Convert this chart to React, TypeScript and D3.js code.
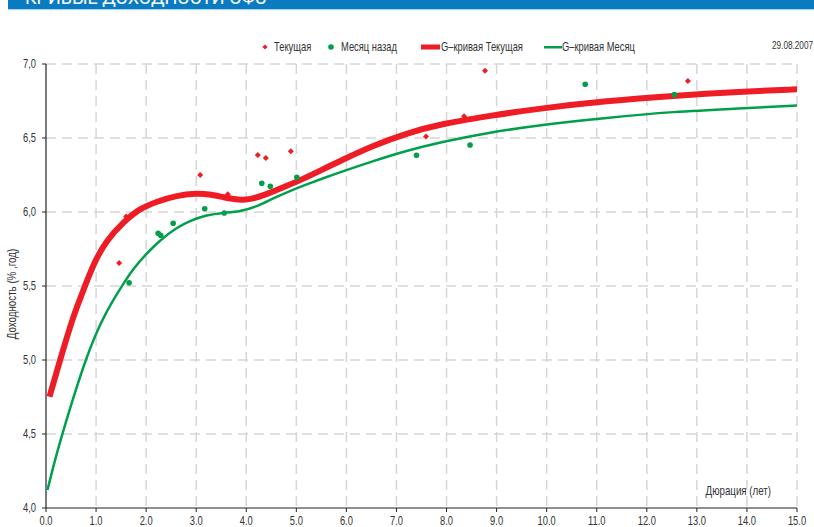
import * as d3 from 'd3';

// Текущая (red diamonds)
const curX = [1.46, 1.6, 3.08, 3.63, 4.23, 4.39, 4.89, 6.35, 7.59, 8.35, 8.77, 12.82];
const curY = [5.655, 5.97, 6.25, 6.12, 6.385, 6.365, 6.41, 6.42, 6.51, 6.647, 6.955, 6.885];

// Месяц назад (green dots)
const prevX = [1.66, 2.24, 2.29, 2.54, 3.17, 3.56, 4.31, 4.48, 5.01, 7.4, 8.47, 10.77, 12.55];
const prevY = [5.522, 5.856, 5.843, 5.924, 6.022, 5.993, 6.194, 6.174, 6.234, 6.383, 6.453, 6.863, 6.793];

// G-кривая Текущая
const gCurX = [0.07, 0.28, 0.55, 0.75, 0.95, 1.21, 1.55, 1.88, 2.21, 2.61, 3.01, 3.25, 3.54, 3.87, 4.07, 4.34, 4.74, 5.14, 5.54, 5.87, 6.54, 7.2, 7.87, 8.87, 9.87, 11.2, 12.53, 13.86, 15.0];
const gCurY = [4.752, 5.0, 5.304, 5.473, 5.653, 5.81, 5.934, 6.025, 6.07, 6.112, 6.126, 6.12, 6.1, 6.08, 6.086, 6.11, 6.167, 6.224, 6.29, 6.345, 6.45, 6.532, 6.593, 6.651, 6.7, 6.75, 6.786, 6.813, 6.829];

// G-кривая Месяц
const gPrevX = [0.03, 0.21, 0.55, 0.81, 1.1, 1.34, 1.55, 1.75, 2.01, 2.28, 2.61, 2.88, 3.21, 3.54, 3.87, 4.21, 4.54, 4.87, 5.21, 5.54, 5.87, 6.54, 7.2, 7.87, 8.87, 9.87, 11.2, 12.53, 13.86, 15.0];
const gPrevY = [4.122, 4.37, 4.752, 5.022, 5.26, 5.405, 5.518, 5.62, 5.72, 5.81, 5.895, 5.941, 5.98, 5.995, 6.002, 6.036, 6.093, 6.142, 6.187, 6.228, 6.268, 6.345, 6.414, 6.471, 6.538, 6.588, 6.637, 6.678, 6.7, 6.72];

const xTicks = d3.range(0, 16, 1);
const yTicks = [4.0, 4.5, 5.0, 5.5, 6.0, 6.5, 7.0];

const RED = '#ee1d25';
const GREEN = '#00a04b';
const FONT = '"Liberation Sans", Arial, sans-serif';

// condensed text: the original uses a narrow face, squeeze a regular one
function Txt(props: { x: number; y: number; size: number; anchor?: string; sx?: number; children: string }) {
    const { x, y, size, anchor, sx, children } = props;
    return (
        <g transform={`translate(${x},${y}) scale(${sx ?? 0.78},1)`}>
            <text textAnchor={anchor ?? 'start'} fontSize={size} fill="#333">{children}</text>
        </g>
    );
}

export default function App() {
    const width = 814;
    const height = 527;
    const margin = { top: 64, right: 17, bottom: 19, left: 46 };

    const x = d3.scaleLinear().domain([0, 15]).range([margin.left, width - margin.right]);
    const y = d3.scaleLinear().domain([4, 7]).range([height - margin.bottom, margin.top]);

    const line = d3.line<[number, number]>()
        .x((d) => x(d[0]))
        .y((d) => y(d[1]))
        .curve(d3.curveBasis);

    const curLine = line(gCurX.map((v, i) => [v, gCurY[i]] as [number, number])) || '';
    const prevLine = line(gPrevX.map((v, i) => [v, gPrevY[i]] as [number, number])) || '';

    const diamond = (cx: number, cy: number, r: number) =>
        `M${cx},${cy - r}L${cx + r},${cy}L${cx},${cy + r}L${cx - r},${cy}Z`;

    const x0 = x(0);
    const x1 = x(15);
    const yb = y(4);
    const yt = y(7);

    return (
        <svg width={width} height={height} style={{ position: 'absolute', left: 0, top: 0, background: '#fff' }}
            fontFamily={FONT}>
            <rect x={8} y={0} width={width - 8} height={9} fill="#0a7bc1" />
            <rect x={8} y={9} width={width - 8} height={1.2} fill="#a9d8f2" />
            <text x={25} y={4} fill="#fff" fontSize={18} fontFamily="Roboto, sans-serif">КРИВЫЕ ДОХОДНОСТИ ОФЗ</text>

            {/* grid */}
            {xTicks.filter((t) => t > 0).map((t) => (
                <line key={'gx' + t} x1={x(t)} x2={x(t)} y1={yt} y2={yb}
                    stroke="#d6d6d6" strokeWidth={1.5} strokeDasharray="10,6" />
            ))}
            {yTicks.filter((t) => t > 4).map((t) => (
                <line key={'gy' + t} x1={x0} x2={x1} y1={y(t)} y2={y(t)}
                    stroke="#d6d6d6" strokeWidth={1.5} strokeDasharray="10,6" />
            ))}

            {/* axes */}
            <line x1={x0} x2={x0} y1={yt} y2={yb} stroke="#222" strokeWidth={1.2} />
            <line x1={x0} x2={x1} y1={yb} y2={yb} stroke="#222" strokeWidth={1.2} />
            {yTicks.map((t) => (
                <g key={'yt' + t}>
                    <line x1={x0 - 4} x2={x0} y1={y(t)} y2={y(t)} stroke="#222" strokeWidth={1} />
                    <Txt x={x0 - 10} y={y(t) + 4} size={12} anchor="end">{t.toFixed(1).replace('.', ',')}</Txt>
                </g>
            ))}
            {xTicks.map((t) => (
                <g key={'xt' + t}>
                    <line x1={x(t)} x2={x(t)} y1={yb} y2={yb + 4} stroke="#222" strokeWidth={1} />
                    <Txt x={x(t)} y={yb + 17} size={12} anchor="middle">{t.toFixed(1)}</Txt>
                </g>
            ))}

            <g transform={`translate(16, ${(yt + yb) / 2 + 8}) rotate(-90)`}>
                <Txt x={0} y={0} size={12.5} anchor="middle">Доходность (% ,год)</Txt>
            </g>
            <Txt x={771} y={495} size={12.5} anchor="end">Дюрация (лет)</Txt>

            {/* curves */}
            <path d={prevLine} fill="none" stroke={GREEN} strokeWidth={2.5} />
            <path d={curLine} fill="none" stroke={RED} strokeWidth={6} />

            {/* points */}
            {prevX.map((v, i) => (
                <circle key={'p' + i} cx={x(v)} cy={y(prevY[i])} r={2.8} fill={GREEN} />
            ))}
            {curX.map((v, i) => (
                <path key={'c' + i} d={diamond(x(v), y(curY[i]), 3)} fill={RED} />
            ))}

            {/* legend */}
            <path d={diamond(265, 47, 2.6)} fill={RED} />
            <Txt x={274} y={51} size={12}>Текущая</Txt>
            <circle cx={331} cy={47} r={2.8} fill={GREEN} />
            <Txt x={341} y={51} size={12}>Месяц назад</Txt>
            <rect x={421} y={44.5} width={19} height={5} fill={RED} />
            <Txt x={441} y={51} size={12}>G–кривая Текущая</Txt>
            <rect x={544} y={46} width={18} height={2.5} fill={GREEN} />
            <Txt x={562} y={51} size={12}>G–кривая Месяц</Txt>
            <Txt x={813} y={49} size={10.5} anchor="end">29.08.2007</Txt>
        </svg>
    );
}
